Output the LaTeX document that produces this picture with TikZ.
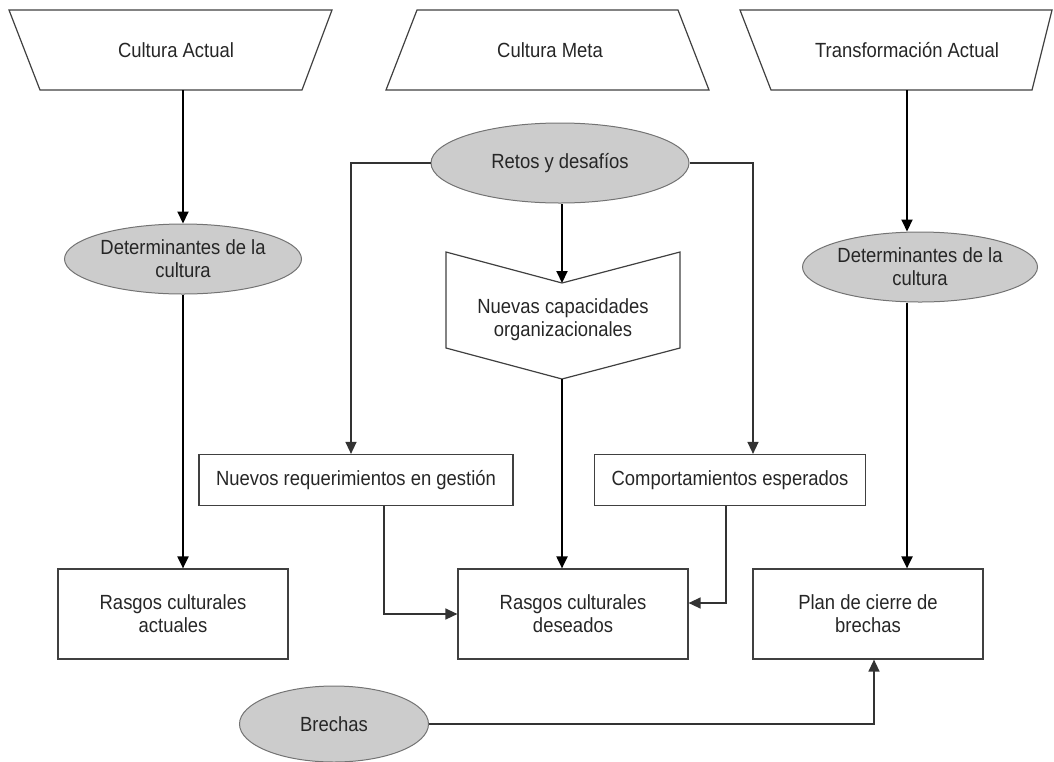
\documentclass[tikz,border=0pt]{standalone}
\usepackage{fontspec}
\setmainfont{Liberation Sans}[FakeStretch=0.9]
\usetikzlibrary{shapes.geometric, arrows.meta}

\begin{document}
\begin{tikzpicture}[x=1pt, y=-1pt,
    font=\fontsize{20.5}{23}\selectfont, text=black!85,
    caja/.style={draw=black!75, line width=1.2pt, minimum width=230pt, minimum height=90pt, align=center, inner sep=0pt},
    ovalo/.style={ellipse, draw=black!55, line width=1pt, fill=black!20, inner sep=0pt, align=center},
    borde/.style={draw=black!75, line width=1.2pt},
    flecha/.style={line width=2pt, -{Triangle[length=12pt, width=11pt]}},
    codo/.style={draw=black!80, line width=1.4pt, -{Triangle[length=12pt, width=11pt]}}]
  %tikz  Cultura actual / meta / transformacion
    \useasboundingbox (0,0) rectangle (1054,761);

    % cabeceras
    \draw[borde](9,10) -- (332,10) -- (302,90) -- (40,90) --cycle;
    \draw[borde](417,10) -- (678,10) -- (709,90) -- (386,90) --cycle;
    \draw[borde](740,10) -- (1052,10) -- (1032,90) -- (771,90) --cycle;
    \node[minimum height=80pt] (ca) at (176,50) {Cultura Actual};
    \node[minimum height=80pt] (cm) at (550,50) {Cultura Meta};
    \node[minimum height=80pt] (ta) at (907,50) {Transformación Actual};

    % ovalos
    \node[ovalo, minimum width=237pt, minimum height=70pt] (dl) at (183,259) {Determinantes de la\\cultura};
    \node[ovalo, minimum width=235pt, minimum height=70pt] (dr) at (920,267) {Determinantes de la\\cultura};
    \node[ovalo, minimum width=258pt, minimum height=80pt] (retos) at (560,163) {Retos y desafíos};
    \node[ovalo, minimum width=189pt, minimum height=76pt] (brechas) at (334,724) {Brechas};

    % capacidades
    \coordinate(capin) at (562,283);
    \coordinate(capout) at (562,379);
    \draw[borde](446,252) -- (capin) -- (680,252) -- (680,348) -- (capout) -- (446,348) --cycle;
    \node[align=center] (cap) at (563,320) {Nuevas capacidades\\organizacionales};

    % cajas
    \node[caja, minimum width=314pt, minimum height=51pt] (nr) at (356,480) {Nuevos requerimientos en gestión};
    \node[caja, minimum width=271pt, minimum height=51pt] (ce) at (730,480) {Comportamientos esperados};
    \node[caja] (ra) at (173,614) {Rasgos culturales\\actuales};
    \node[caja] (rd) at (573,614) {Rasgos culturales\\deseados};
    \node[caja] (pc) at (868,614) {Plan de cierre de\\brechas};

    % flechas
    \draw[flecha](ca.south -| dl.north) -- (dl.north);
    \draw[flecha](dl.south) -- (dl.south |- ra.north);
    \draw[flecha](retos.south -| capin) -- (capin);
    \draw[flecha](capout) -- (capout |- rd.north);
    \draw[flecha](ta.south) -- (ta.south |- dr.north);
    \draw[flecha](dr.south -| ta.south) -- (ta.south |- pc.north);

    \draw[codo](retos.west) -| ([xshift=-5pt]nr.north);
    \draw[codo](retos.east) -| ([xshift=23pt]ce.north);
    \draw[codo]([xshift=28pt]nr.south) |- (rd.west);
    \draw[codo]([xshift=-4pt]ce.south) |- ([yshift=11pt]rd.east);
    \draw[codo](brechas.east) -| ([xshift=6pt]pc.south);
  \end{tikzpicture}
\end{document}
